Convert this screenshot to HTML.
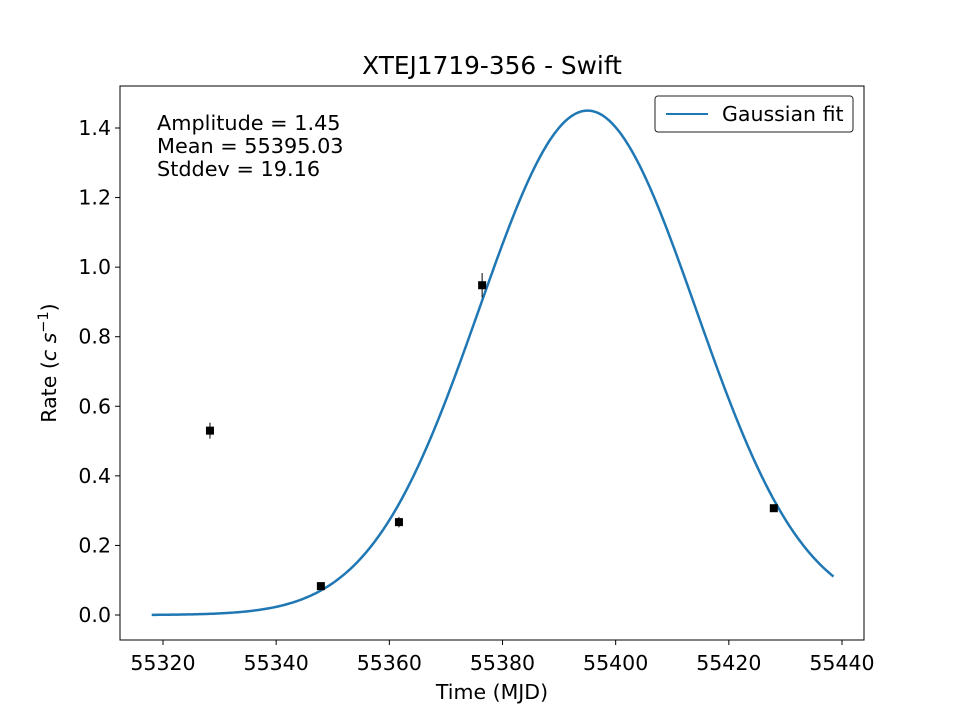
<!DOCTYPE html>
<html><head><meta charset="utf-8"><style>
body{margin:0;background:#fff}
svg text{font-family:"DejaVu Sans","Liberation Sans",sans-serif;fill:#000}
</style></head><body>
<svg id="chart" width="960" height="720" xmlns="http://www.w3.org/2000/svg">
<rect width="960" height="720" fill="#fff"/>
<text x="492" y="74" font-size="24.8" text-anchor="middle">XTEJ1719-356 - Swift</text>
<g id="plot"></g>
<rect x="120" y="86" width="744" height="554" fill="none" stroke="#000" stroke-width="1"/>
<text x="492" y="699" font-size="20.5" text-anchor="middle">Time (MJD)</text>
<text transform="translate(56,363) rotate(-90)" font-size="20.5" text-anchor="middle">Rate (<tspan font-style="italic">c s</tspan><tspan dy="-8" font-size="14.5">−1</tspan><tspan dy="8">)</tspan></text>
<g font-size="20.8">
<text x="157" y="130">Amplitude = 1.45</text>
<text x="157" y="153">Mean = 55395.03</text>
<text x="157" y="176">Stddev = 19.16</text>
</g>
<g>
<rect x="655" y="96" width="198" height="36" rx="3" fill="#fff" stroke="#222" stroke-width="1"/>
<line x1="666" y1="114" x2="708" y2="114" stroke="#1f77b4" stroke-width="2"/>
<text x="722" y="121" font-size="20.5">Gaussian fit</text>
</g>
</svg>
<script>
const xTicks=[55320,55340,55360,55380,55400,55420,55440];
const yTicks=[0.0,0.2,0.4,0.6,0.8,1.0,1.2,1.4];
const obsTime=[55328.3,55347.9,55361.7,55376.4,55427.95];
const obsRate=[0.53,0.083,0.267,0.948,0.307];
const obsErr=[0.023,0.008,0.015,0.035,0.008];
const fitAmp=1.45, fitMean=55395.03, fitStd=19.16;
const fitRange=[55318,55438.5];
const X=v=>163+(v-55320)*(842-163)/120;
const Y=v=>615-v*(615-128)/1.4;
const NS="http://www.w3.org/2000/svg";
const g=document.getElementById('plot');
function mk(t,a,p){const e=document.createElementNS(NS,t);for(const k in a)e.setAttribute(k,a[k]);(p||g).appendChild(e);return e;}
xTicks.forEach(v=>{
 const t=mk('line',{x1:X(v),x2:X(v),y1:640,y2:645,stroke:'#000'});
 
 
 const l=mk('text',{x:X(v),y:670,'font-size':20.5,'text-anchor':'middle'});l.textContent=v;
 
 
});
yTicks.forEach(v=>{
 const t=mk('line',{x1:115,x2:120,y1:Y(v),y2:Y(v),stroke:'#000'});
 
 
 const l=mk('text',{x:111,y:Y(v)+7,'font-size':20.5,'text-anchor':'end'});l.textContent=v.toFixed(1);
 
 
});
let d='';
for(let i=0;i<=300;i++){const t=fitRange[0]+(fitRange[1]-fitRange[0])*i/300;const r=fitAmp*Math.exp(-((t-fitMean)**2)/(2*fitStd*fitStd));d+=(i?'L':'M')+X(t).toFixed(2)+','+Y(r).toFixed(2);}
const c=mk('path',{d:d,fill:'none',stroke:'#1f77b4','stroke-width':2.5});


obsTime.forEach((t,i)=>{
 const e=mk('line',{x1:X(t),x2:X(t),y1:Y(obsRate[i]-obsErr[i]),y2:Y(obsRate[i]+obsErr[i]),stroke:'#000','stroke-width':1});
 
 
 const p=mk('rect',{x:X(t)-4,y:Y(obsRate[i])-4,width:8,height:8,fill:'#000'});
 
 
});
</script>
</body></html>
